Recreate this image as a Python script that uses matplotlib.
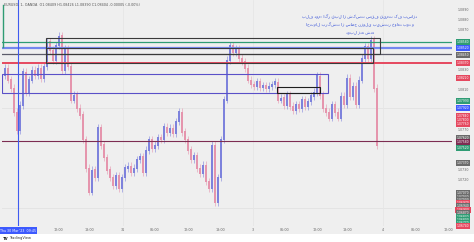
import matplotlib
matplotlib.use("Agg")
import matplotlib.pyplot as plt
import matplotlib.transforms as mtransforms
from matplotlib.patches import Rectangle

# ---------------- data ----------------
closes = [
    1.0825, 1.0832, 1.0820, 1.0812, 1.0788, 1.0770, 1.0795, 1.0828, 1.0808, 1.0820,
    1.0830, 1.0825, 1.0832, 1.0822, 1.0834, 1.0858, 1.0850, 1.0840, 1.0855, 1.0864,
    1.0830, 1.0852, 1.0834, 1.0800, 1.0805, 1.0792, 1.0785, 1.0760, 1.0732, 1.0708,
    1.0730, 1.0722, 1.0772, 1.0755, 1.0742, 1.0730, 1.0722, 1.0715, 1.0724, 1.0712,
    1.0722, 1.0732, 1.0734, 1.0728, 1.0732, 1.0740, 1.0743, 1.0728, 1.0750, 1.0760,
    1.0752, 1.0755, 1.0762, 1.0760, 1.0773, 1.0768, 1.0772, 1.0767, 1.0778, 1.0788,
    1.0768, 1.0760, 1.0750, 1.0740, 1.0744, 1.0732, 1.0727, 1.0735, 1.0718, 1.0712,
    1.0755, 1.0697, 1.0722, 1.0760, 1.0800, 1.0840, 1.0855, 1.0848, 1.0852, 1.0842,
    1.0838, 1.0832, 1.0820, 1.0816, 1.0814, 1.0818, 1.0813, 1.0815, 1.0812, 1.0814,
    1.0816, 1.0818, 1.0800, 1.0802, 1.0795, 1.0805, 1.0794, 1.0790, 1.0796, 1.0792,
    1.0800, 1.0794, 1.0798, 1.0804, 1.0808, 1.0824, 1.0805, 1.0792, 1.0788, 1.0782,
    1.0796, 1.0788, 1.0782, 1.0804, 1.0796, 1.0822, 1.0804, 1.0814, 1.0796, 1.0820,
    1.0842, 1.0854, 1.0842, 1.0860, 1.0812, 1.0755,
]

level_prices = [1.0858, 1.08515, 1.0846, 1.0837, 1.0759]
level_colors = ["#2f9c74", "#7487ee", "#5c5c6a", "#e5485f", "#7d2d52"]
level_widths = [0.9, 1.6, 0.9, 1.4, 0.8]

# rectangles: (x0 bar, x1 bar, price_low, price_high, colour)
rects = [
    (14.7, 126.0, 1.0846, 1.0862, "#3a3a3a"),
    (14.7, 123.7, 1.0837, 1.08515, "#3a3a3a"),
    (0.0, 108.7, 1.0807, 1.0826, "#5a50c8"),
    (91.7, 106.0, 1.0807, 1.0813, "#1e1e1e"),
]

price_tags = [1.0858, 1.0852, 1.0845, 1.0837, 1.0822, 1.0799, 1.0792, 1.0784, 1.0780,
              1.0776, 1.0762, 1.0758, 1.0752, 1.0737, 1.0707, 1.0703, 1.0700, 1.0697,
              1.0694, 1.0690, 1.0687, 1.0683, 1.0680, 1.0677, 1.0674]
tag_colors = ["#2f9c74", "#3d5afe", "#6b6b6b", "#e5485f", "#e5485f", "#2f9c74", "#3d5afe",
              "#e5485f", "#e5485f", "#e5485f", "#6b6b6b", "#7d2d52", "#2f9c74", "#6b6b6b",
              "#6b6b6b", "#6b6b6b", "#6b6b6b", "#e5485f", "#6b6b6b", "#e5485f", "#6b6b6b",
              "#2f9c74", "#2f9c74", "#2f9c74", "#e5485f"]

time_ticks = [18.7, 29.3, 40.3, 51.0, 62.0, 72.7, 83.7, 94.3, 105.3, 115.3, 127.0, 137.7, 148.7]
time_labels = ["12:00", "18:00", "31", "06:00", "12:00", "18:00", "3", "06:00",
               "12:00", "18:00", "4", "06:00", "12:00"]

note_lines = [
    "بلف دوم: اگر قبل از شکست سقف قیمت کف بسازد",
    "احتمال برگشت از سطح نزولی بیشتر خواهد بود و",
    "دوبل زده شده",
]
title = "EURUSD, 1, OANDA  O1.08409 H1.08426 L1.08390 C1.08404 -0.00005 (-0.00%)"

# ---------------- figure ----------------
W, H = 474, 242
fig = plt.figure(figsize=(W / 100, H / 100), dpi=100, facecolor="white")
bg = fig.add_axes([0, 8 / H, 1, 234 / H])
bg.set_facecolor("#efefef")
bg.set_xticks([]); bg.set_yticks([])
for s in bg.spines.values():
    s.set_visible(False)

ax = fig.add_axes([2 / W, (H - 226) / H, 450 / W, 226 / H])
ax.set_facecolor("#efefef")
ax.set_xlim(0, 150)
ax.set_ylim(1.0674, 1.0900)
for s in ax.spines.values():
    s.set_visible(False)
ax.set_xticks([]); ax.set_yticks([])

# faint grid
for p in [1.0792, 1.0692]:
    ax.axhline(p, color="#e2e2e2", lw=0.6, zorder=0)
for t in [40.3, 83.7, 127.0]:
    ax.axvline(t, color="#e6e6e6", lw=0.6, zorder=0)

# candles
up_c, dn_c = "#7d82dc", "#e595ad"
for i in range(1, len(closes)):
    o, c = closes[i - 1], closes[i]
    col = up_c if c >= o else dn_c
    ax.bar(i, abs(c - o) + 0.0001, bottom=min(o, c) - 0.00005, width=0.5,
           color=col, lw=0, zorder=3)
    ax.vlines(i, min(o, c) - 0.00035, max(o, c) + 0.00035, color=col, lw=0.4, zorder=3)

# horizontal levels
for p, c, w in zip(level_prices, level_colors, level_widths):
    ax.axhline(p, color=c, lw=w, zorder=4)

# rectangles
for x0, x1, lo, hi, c in rects:
    ax.add_patch(Rectangle((x0, lo), x1 - x0, hi - lo, fill=False, edgecolor=c,
                           lw=0.8, zorder=5))

# crosshair vertical line and left marker
ax.axvline(5.33, color="#3f5bf0", lw=0.8, zorder=6)
ax.plot([0.33, 0.33], [1.0853, 1.0895], color="#2f9c74", lw=1.0, zorder=6)

# annotation text
for k, line in enumerate(note_lines):
    fig.text(360 / W, 1 - (17 + 7.5 * k) / H, line, color="#3550d8", fontsize=3.0,
             ha="center", va="center", family=["DejaVu Sans"])

fig.text(4 / W, 1 - 5 / H, title, color="#555555", fontsize=2.4, ha="left", va="center")

# right price scale
tr = mtransforms.blended_transform_factory(ax.transAxes, ax.transData)
xr = (463 - 2) / 450
for p, c in zip(price_tags, tag_colors):
    ax.text(xr, p, f"{p:.5f}", transform=tr, fontsize=2.2, color="white",
            ha="center", va="center", clip_on=False, zorder=10,
            bbox=dict(boxstyle="square,pad=0.35", fc=c, ec="none"))
tick = 1.0680
while tick < 1.0899:
    if all(abs(tick - p) > 0.00045 for p in price_tags):
        ax.text(xr, tick, f"{tick:.4f}", transform=tr, fontsize=2.3, color="#666666",
                ha="center", va="center", clip_on=False)
    tick += 0.0010

# time scale
for t, lab in zip(time_ticks, time_labels):
    ax.text(t, -0.018, lab, transform=mtransforms.blended_transform_factory(ax.transData, ax.transAxes),
            fontsize=2.4, color="#666666", ha="center", va="center", clip_on=False)
fig.text(18 / W, 1 - 230.5 / H, "Thu 30 Mar '23  09:45", fontsize=2.3, color="white",
         ha="center", va="center",
         bbox=dict(boxstyle="square,pad=0.35", fc="#3d5afe", ec="none"))

fig.text(3 / W, 1 - 238.5 / H, "TV", fontsize=2.8, color="#222222", ha="left",
         va="center", weight="bold")
fig.text(9 / W, 1 - 238.5 / H, "TradingView", fontsize=2.6, color="#333333",
         ha="left", va="center")

fig.savefig("out.png", dpi=100, facecolor="white")
